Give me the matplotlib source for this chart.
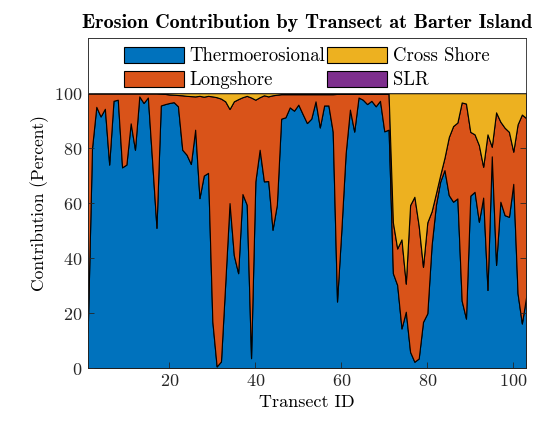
# Erosion contribution by transect, stacked area chart
import matplotlib.pyplot as plt
from matplotlib.patches import Rectangle
import numpy as np

plt.rcParams['font.family'] = ['cmr10', 'DejaVu Serif']
plt.rcParams['axes.formatter.use_mathtext'] = True

transect = np.arange(1, 104)

thermo = [13, 80, 95, 91.5, 94.3, 74, 97.2, 97.6, 73, 74,
          89, 79.4, 98.8, 96.4, 98.4, 75, 51, 95.5, 96, 96.4,
          96.7, 95.2, 79.4, 77.6, 74.2, 86.7, 61.8, 70, 71, 17,
          0.6, 2.4, 31, 60, 41, 34.5, 63.3, 59.4, 3.6, 67.9,
          79.4, 67.9, 68, 50.3, 59.4, 90.7, 91.2, 94.8, 93.6, 95.8,
          92.4, 89.1, 90.7, 97, 87.5, 95.5, 95.5, 86, 24.2, 50,
          78, 94, 86, 98.4, 97.6, 96, 97.2, 95.2, 97.2, 86.1,
          86.7, 34.5, 30.2, 14.4, 20.5, 5.9, 2.3, 3.5, 16.8, 19.9,
          44.7, 59.3, 67.8, 72, 62.9, 60.5, 61.7, 24.5, 18, 62.7,
          64.1, 53.2, 62, 28.4, 77, 37.5, 60.5, 55.6, 55, 67,
          27.2, 16.2, 26]

longshore = [86.9, 19.9, 4.9, 8.4, 5.6, 25.9, 2.7, 2.3, 26.9, 25.9,
             10.9, 20.5, 1.1, 3.5, 1.5, 24.9, 48.9, 4.3, 3.7, 3.1,
             2.7, 4.1, 19.8, 21.4, 24.7, 12.1, 37.2, 28.7, 28.0, 81.8,
             97.9, 95.6, 66, 34.2, 56, 63.3, 35.2, 39.6, 94.8, 29.7,
             19.1, 31.3, 30.8, 48.9, 40, 8.9, 8.4, 4.8, 6.0, 3.8,
             7.2, 10.5, 8.9, 2.6, 12.1, 4.1, 4.1, 13.6, 75.5, 49.7,
             21.7, 5.7, 13.7, 1.3, 2.1, 3.7, 2.5, 4.5, 2.5, 13.6,
             13.0, 18.5, 13.3, 32.4, 10.2, 53.4, 60, 48.3, 20, 33.1,
             12.3, 4.2, 2.4, 4.5, 21.1, 27.5, 27.6, 72.1, 78.2, 23.2,
             20.9, 27.9, 11.2, 56.6, 3.5, 55.5, 29.1, 31.8, 30.9, 11.7,
             61.4, 76, 64.9]

cross = [0.1, 0.1, 0.1, 0.1, 0.1, 0.1, 0.1, 0.1, 0.1, 0.1,
         0.1, 0.1, 0.1, 0.1, 0.1, 0.1, 0.1, 0.2, 0.3, 0.5,
         0.6, 0.7, 0.8, 1.0, 1.1, 1.2, 1.0, 1.3, 1.0, 1.2,
         1.5, 2.0, 3.0, 5.8, 3.0, 2.2, 1.5, 1.0, 1.6, 2.4,
         1.5, 0.8, 1.2, 0.8, 0.6, 0.4, 0.4, 0.4, 0.4, 0.4,
         0.4, 0.4, 0.4, 0.4, 0.4, 0.4, 0.4, 0.4, 0.3, 0.3,
         0.3, 0.3, 0.3, 0.3, 0.3, 0.3, 0.3, 0.3, 0.3, 0.3,
         0.3, 47, 56.5, 53.2, 69.3, 40.7, 37.7, 48.2, 63.2, 47,
         43, 36.5, 29.8, 23.5, 16, 12, 10.7, 3.4, 3.8, 14.1,
         15, 18.9, 26.8, 15, 19.5, 7, 10.4, 12.6, 14.1, 21.3,
         11.4, 7.8, 9.1]

slr = [0.0] * 103

labels = ['Thermoerosional', 'Longshore', 'Cross Shore', 'SLR']
colors = ['#0072BD', '#D95319', '#EDB120', '#7E2F8E']

fig = plt.figure(figsize=(5.38, 4.28), dpi=100)
ax = fig.add_axes([0.163, 0.140, 0.815, 0.771])

ax.stackplot(transect, thermo, longshore, cross, slr, labels=labels,
             colors=colors, edgecolor='k', linewidth=0.8)

ax.set_xlim(1, 103)
ax.set_ylim(0, 120)
ax.set_xticks([20, 40, 60, 80, 100])
ax.set_yticks([0, 20, 40, 60, 80, 100])
ax.tick_params(direction='in', top=True, right=True, labelsize=13,
               length=4, width=0.6, colors='#262626')
for s in ax.spines.values():
    s.set_linewidth(0.6)
    s.set_color('#262626')

ax.set_xlabel('Transect ID', fontsize=13)
ax.set_ylabel('Contribution (Percent)', fontsize=12.5)
ax.set_title('Erosion Contribution by Transect at Barter Island',
             fontsize=14.5, fontfamily='cmb10', pad=7)

# legend box fills the top band of the axes
box = Rectangle((0, 100 / 120), 1, 20 / 120, transform=ax.transAxes,
                facecolor='white', edgecolor='#262626', linewidth=0.6,
                zorder=4)
ax.add_patch(box)
leg = ax.legend(ncol=2, loc='center', bbox_to_anchor=(0.5, 0.909),
                fontsize=13.5, handlelength=3.2, handleheight=0.95,
                handletextpad=0.3, labelspacing=0.3, columnspacing=0.1,
                frameon=False, borderpad=0)
leg.set_zorder(5)

fig.savefig('out.png', dpi=100)
